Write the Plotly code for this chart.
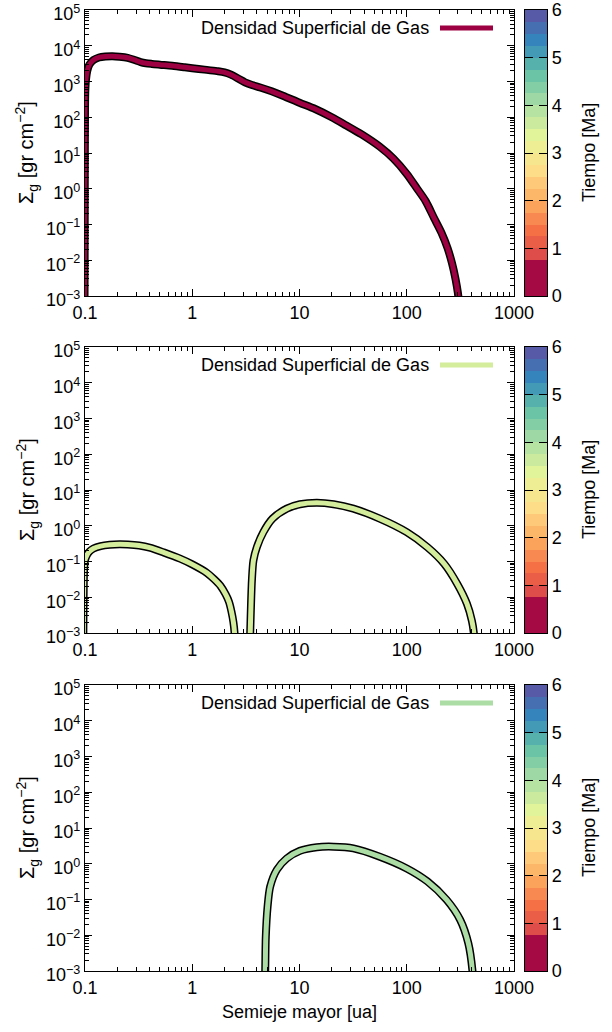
import numpy as np
import plotly.graph_objects as go

# ---------------- data ----------------
x_panel1 = [0.0985, 0.099, 0.0993, 0.0996, 0.0999, 0.1005, 0.102, 0.105, 0.11, 0.12, 0.135, 0.155,
            0.18, 0.21, 0.25, 0.29, 0.33, 0.37, 0.42, 0.50, 0.65, 0.85, 1.0, 1.3, 1.7, 2.0, 2.3, 2.7, 3.1, 3.6,
            4.3, 5.5, 7.0, 10, 14, 20, 27, 38, 56, 75, 100, 125, 150, 180, 210, 240, 265, 285, 300, 312, 320]
y_panel1 = [1e-4, 1e-3, 1e-1, 1e1, 1e2, 5e2, 1.1e3, 2.0e3, 3.0e3, 4.0e3, 4.7e3, 5.0e3,
            5.1e3, 4.95e3, 4.6e3, 4.0e3, 3.5e3, 3.25e3, 3.1e3, 2.95e3, 2.75e3, 2.5e3, 2.35e3, 2.15e3, 1.95e3, 1.8e3,
            1.55e3, 1.2e3, 950, 800,
            680, 530, 400, 255, 170, 100, 60, 33, 15, 7, 2.6, 1.0, 0.45, 0.15, 0.06, 0.022, 0.008, 0.003, 0.0012,
            4e-4, 1e-4]

x_panel2a = [0.096, 0.0965, 0.097, 0.098, 0.100, 0.104, 0.11, 0.12, 0.14, 0.17, 0.21, 0.25, 0.32, 0.40,
             0.54, 0.77, 1.0, 1.37, 1.6, 1.83, 2.05, 2.2, 2.32, 2.42, 2.48, 2.55]
y_panel2a = [1e-4, 1e-3, 1e-2, 0.06, 0.11, 0.15, 0.19, 0.23, 0.27, 0.295, 0.305, 0.30, 0.28, 0.245,
             0.18, 0.12, 0.083, 0.048, 0.032, 0.021, 0.012, 0.0075, 0.004, 0.002, 0.001, 1e-4]
x_panel2b = [3.40, 3.47, 3.6, 3.72, 4.0, 4.6, 5.6, 7.6, 10.1, 14.5, 20.8, 31.8, 56, 100, 156, 223,
             295, 364, 405, 422, 440]
y_panel2b = [1e-4, 1e-3, 0.03, 0.107, 0.25, 0.66, 1.58, 3.0, 4.0, 4.4, 4.0, 3.0, 1.58, 0.66, 0.25, 0.087,
             0.024, 0.0066, 0.0022, 0.001, 1e-4]

x_panel3 = [4.72, 4.79, 4.85, 5.04, 5.33, 6.15, 7.6, 10.1, 14.5, 20.8, 31.8, 56, 100, 156, 236, 315,
            375, 410, 425]
y_panel3 = [1e-4, 1e-3, 0.009, 0.063, 0.23, 0.68, 1.4, 2.3, 2.9, 3.0, 2.7, 1.58, 0.74, 0.32, 0.097, 0.027,
            0.006, 0.001, 1e-4]

tiempos = [0.0, 3.55, 4.0]          # Ma, colour of each panel's curve
x_ticks = [0.1, 1, 10, 100, 1000]
x_ticktext = ["0.1", "1", "10", "100", "1000"]
y_exps = [-3, -2, -1, 0, 1, 2, 3, 4, 5]
cb_ticks = [0, 1, 2, 3, 4, 5, 6]
cb_edges = [0, 0.75] + [0.75 + 0.25 * i for i in range(1, 22)]
palette = ['#9E0142', '#D53E4F', '#F46D43', '#FDAE61', '#FEE08B', '#E6F598', '#ABDDA4', '#66C2A5',
           '#3288BD', '#5E4FA2']
legend_text = "Densidad Superficial de Gas"

FONT = "Liberation Sans"
FS = 18


def hex2rgb(h):
    h = h.lstrip('#')
    return [int(h[i:i + 2], 16) for i in (0, 2, 4)]


def pal(t):
    s = np.clip(t / 6.0 * 9.0, 0, 9)
    i = int(min(np.floor(s), 8))
    f = s - i
    a, b = hex2rgb(palette[i]), hex2rgb(palette[i + 1])
    c = [round(a[k] + (b[k] - a[k]) * f) for k in range(3)]
    return 'rgb(%d,%d,%d)' % tuple(c)


# ---------------- geometry ----------------
W, H = 612, 1032
ML, MR, MT, MB = 85, 65, 10, 61
pw = W - ML - MR
ph = H - MT - MB
panel_px = [(10, 296), (347, 633), (685, 971)]


def ydom(top, bot):
    return [(H - MB - bot) / ph, (H - MB - top) / ph]


xmain = [0, (514 - ML) / pw]
xcb = [(525 - ML) / pw, 1.0]

fig = go.Figure()
curves = [[(x_panel1, y_panel1)], [(x_panel2a, y_panel2a), (x_panel2b, y_panel2b)], [(x_panel3, y_panel3)]]

minor_x = [k * 10.0 ** e for e in range(-1, 3) for k in range(2, 10)]
minor_y = [k * 10.0 ** e for e in range(-3, 5) for k in range(2, 10)]

nblk = len(cb_edges) - 1
blk_cols = [pal(0.1 if i == 0 else (cb_edges[i] + cb_edges[i + 1]) / 2) for i in range(nblk)]
cscale = []
for i, c in enumerate(blk_cols):
    cscale.append([i / nblk, c])
    cscale.append([(i + 1) / nblk, c])

ytitle = '\u03a3<sub>g</sub> [gr cm<sup>\u22122</sup>]'

annotations = []
shapes = []
for p in range(3):
    n = p + 1
    xa = 'x' if n == 1 else 'x%d' % n
    ya = 'y' if n == 1 else 'y%d' % n
    col = pal(tiempos[p])
    for (xs, ys) in curves[p]:
        fig.add_trace(go.Scatter(x=xs, y=ys, mode='lines', xaxis=xa, yaxis=ya,
                                 line=dict(color='black', width=8, shape='spline', smoothing=0.8),
                                 showlegend=False, hoverinfo='skip'))
        fig.add_trace(go.Scatter(x=xs, y=ys, mode='lines', xaxis=xa, yaxis=ya,
                                 line=dict(color=col, width=5, shape='spline', smoothing=0.8),
                                 showlegend=False))
    # colour bar as heatmap on its own axes
    cbn = n + 3
    fig.add_trace(go.Heatmap(z=[[i] for i in range(nblk)], x=[0, 1], y=cb_edges,
                             xaxis='x%d' % cbn, yaxis='y%d' % cbn, colorscale=cscale,
                             zmin=0, zmax=nblk - 1, showscale=False, hoverinfo='skip'))
    top, bot = panel_px[p]
    yd = ydom(top, bot)
    axis_common = dict(showline=True, linecolor='black', linewidth=1.2, mirror='allticks',
                       ticks='inside', tickcolor='black', tickwidth=1, ticklen=7,
                       showgrid=False, zeroline=False, automargin=False, ticklabeloverflow='allow',
                       tickfont=dict(family=FONT, size=FS, color='black'))
    fig.update_layout(**{
        ('xaxis' if n == 1 else 'xaxis%d' % n): dict(
            type='log', range=[-1, 3], domain=xmain, anchor=ya,
            tickvals=x_ticks, ticktext=x_ticktext,
            minor=dict(ticks='inside', ticklen=4, tickcolor='black', tickvals=minor_x, showgrid=False),
            **axis_common),
        ('yaxis' if n == 1 else 'yaxis%d' % n): dict(
            type='log', range=[-3, 5], domain=yd, anchor=xa, ticklabelshift=4,
            tickvals=[10.0 ** e for e in y_exps],
            ticktext=['10<sup>%d</sup>' % e if e >= 0 else '10<sup>\u2212%d</sup>' % (-e) for e in y_exps],
            minor=dict(ticks='inside', ticklen=4, tickcolor='black', tickvals=minor_y, showgrid=False),
            **axis_common),
        'xaxis%d' % cbn: dict(domain=xcb, anchor='y%d' % cbn, range=[0, 1], showticklabels=False,
                              ticks='', showline=True, linecolor='black', linewidth=1.2, mirror=True,
                              showgrid=False, zeroline=False, automargin=False),
        'yaxis%d' % cbn: dict(domain=yd, anchor='x%d' % cbn, range=[0, 6], side='right',
                              tickvals=cb_ticks, ticks='inside', ticklen=8, tickcolor='black',
                              showline=True, linecolor='black', linewidth=1.2, mirror='ticks',
                              showgrid=False, zeroline=False, automargin=False,
                              ticklabeloverflow='allow',
                              tickfont=dict(family=FONT, size=FS, color='black')),
    })
    # y title
    annotations.append(dict(text=ytitle, textangle=-90,
                            xref='paper', x=(27 - ML) / pw, yref=ya + ' domain', y=0.5,
                            showarrow=False, font=dict(family=FONT, size=20, color='black'),
                            xanchor='center', yanchor='middle'))
    # colourbar title
    annotations.append(dict(text='Tiempo [Ma]', textangle=-90,
                            xref='paper', x=(589 - ML) / pw, yref=ya + ' domain', y=0.5,
                            showarrow=False, font=dict(family=FONT, size=FS, color='black'),
                            xanchor='center', yanchor='middle'))
    # legend (gnuplot style: text then sample)
    ly = 1 - 18 / 286
    annotations.append(dict(text=legend_text, xref=xa + ' domain', x=(431 - ML) / (514 - ML),
                            yref=ya + ' domain', y=ly, xanchor='right', yanchor='middle',
                            showarrow=False, font=dict(family=FONT, size=FS, color='black')))
    shapes.append(dict(type='line', xref=xa + ' domain', yref=ya + ' domain',
                       x0=(440 - ML) / (514 - ML), x1=(493 - ML) / (514 - ML), y0=ly, y1=ly,
                       line=dict(color=col, width=5)))

annotations.append(dict(text='Semieje mayor [ua]', xref='x3 domain', x=0.5, yref='paper',
                        y=-(1012 - (H - MB)) / ph, xanchor='center', yanchor='middle', showarrow=False,
                        font=dict(family=FONT, size=FS, color='black')))

fig.update_layout(width=W, height=H, margin=dict(l=ML, r=MR, t=MT, b=MB),
                  paper_bgcolor='white', plot_bgcolor='white', showlegend=False,
                  annotations=annotations, shapes=shapes,
                  font=dict(family=FONT, size=FS, color='black'))

fig.write_html("out.html", config={'displayModeBar': False},
               post_script="document.body.style.margin='0px';document.body.style.padding='0px';"
                           "document.documentElement.style.overflow='hidden';")
